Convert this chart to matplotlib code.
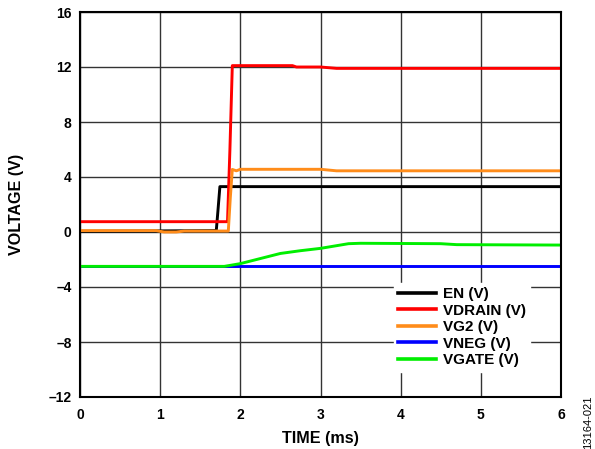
import matplotlib
matplotlib.use("Agg")
import matplotlib.pyplot as plt

plt.rcParams['font.family'] = ['Liberation Sans', 'DejaVu Sans']

# ---- data (time in ms, voltage in V) ----
en_t = [0, 1.70, 1.72, 1.745, 6]
en_v = [0.05, 0.1, 1.5, 3.3, 3.3]

vdrain_t = [0, 1.84, 1.87, 1.90, 2.65, 2.70, 3.0, 3.2, 6]
vdrain_v = [0.75, 0.75, 6.0, 12.1, 12.1, 12.0, 12.0, 11.9, 11.9]

vg2_t = [0, 0.95, 1.05, 1.2, 1.3, 1.85, 1.875, 1.90, 1.95, 2.0, 3.0, 3.2, 6]
vg2_v = [0.1, 0.1, 0.0, 0.0, 0.07, 0.07, 2.5, 4.55, 4.45, 4.56, 4.56, 4.45, 4.45]

vneg_t = [0, 6]
vneg_v = [-2.5, -2.5]

vgate_t = [0, 1.8, 2.0, 2.5, 2.75, 3.0, 3.35, 3.5, 4.5, 4.7, 6]
vgate_v = [-2.5, -2.5, -2.3, -1.56, -1.36, -1.19, -0.85, -0.82, -0.85, -0.92, -0.95]

xticks = [0, 1, 2, 3, 4, 5, 6]
yticks = [-12, -8, -4, 0, 4, 8, 12, 16]
ytick_labels = ['–12', '–8', '–4', '0', '4', '8', '12', '16']

series = [
    ("EN (V)", en_t, en_v, "#000000"),
    ("VDRAIN (V)", vdrain_t, vdrain_v, "#ff0000"),
    ("VG2 (V)", vg2_t, vg2_v, "#ff8c1a"),
    ("VNEG (V)", vneg_t, vneg_v, "#0000ff"),
    ("VGATE (V)", vgate_t, vgate_v, "#00ee00"),
]

W, H = 595, 449
fig = plt.figure(figsize=(W/100, H/100), dpi=100)
ax = fig.add_axes([80/W, 1-397/H, (561-80)/W, (397-12)/H])

for label, t, v, c in series:
    ax.plot(t, v, color=c, lw=2.1, label=label, solid_joinstyle='round')

ax.set_xlim(0, 6)
ax.set_ylim(-12, 16)
ax.set_xticks(xticks)
ax.set_yticks(yticks)
ax.set_yticklabels(ytick_labels)
ax.grid(True, color='#333333', lw=1.0)
ax.set_axisbelow(True)
ax.tick_params(axis='x', length=0, labelsize=10, pad=8)
ax.tick_params(axis='y', length=0, labelsize=10, pad=6)
for lab in ax.get_xticklabels() + ax.get_yticklabels():
    lab.set_fontweight('bold')
for s in ax.spines.values():
    s.set_linewidth(1.5)
    s.set_color('black')

fig.text(320/W, 1-439/H, "TIME (ms)", fontsize=11.6, fontweight='bold',
         ha='center', va='center')
fig.text(17/W, 1-204/H, "VOLTAGE (V)", fontsize=11.6, fontweight='bold',
         ha='center', va='center', rotation=90)

leg = ax.legend(loc='upper left', bbox_to_anchor=(386/W, 1-275/H),
                bbox_transform=fig.transFigure, frameon=True,
                fancybox=False, edgecolor='white', framealpha=1.0,
                prop={'weight': 'bold', 'size': 11}, handlelength=2.45,
                handletextpad=0.45, labelspacing=0.16, borderpad=0.3)
for line in leg.get_lines():
    line.set_linewidth(2.6)

fig.text(588/W, 1-422/H, "13164-021", rotation=90, fontsize=8,
         ha='center', va='center')

fig.savefig("out.png", dpi=100)
